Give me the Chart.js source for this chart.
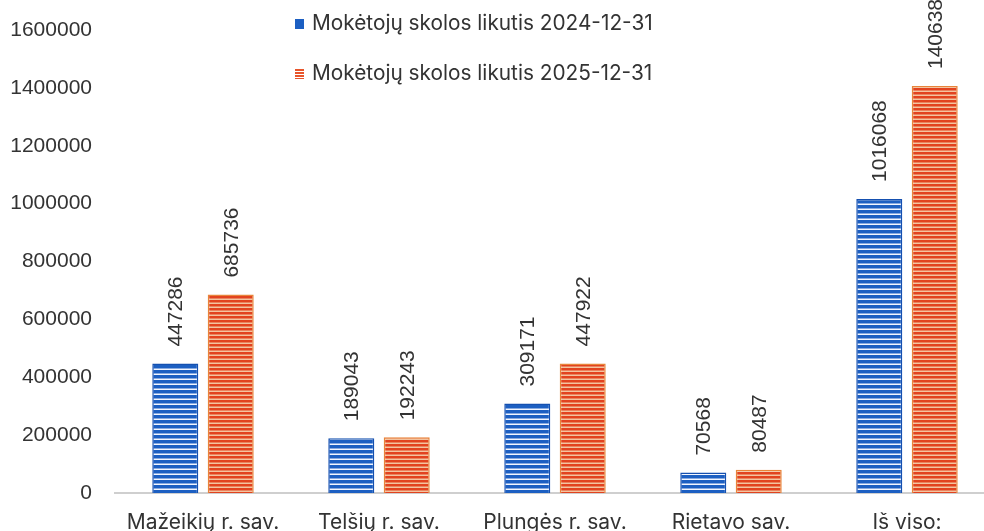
<!DOCTYPE html>
<html>
<head>
<meta charset="utf-8">
<script src="https://cdn.jsdelivr.net/npm/chart.js@4"></script>
<style>
    html, body { margin: 0; padding: 0; overflow: hidden; background: #fff; }
    #wrap { width: 995px; height: 545px; }
</style>
</head>
<body>
<div id="wrap"><canvas id="debtChart"></canvas></div>
<script>
const categories = ['Mažeikių r. sav.', 'Telšių r. sav.', 'Plungės r. sav.', 'Rietavo sav.', 'Iš viso:'];
const debt2024 = [447286, 189043, 309171, 70568, 1016068];
const debt2025 = [685736, 192243, 447922, 80487, 1406388];
const seriesLabels = ['Mokėtojų skolos likutis 2024-12-31', 'Mokėtojų skolos likutis 2025-12-31'];
const yMax = 1600000;
const yStep = 200000;

const FONT = '"Liberation Sans", Arial, sans-serif';
const LABEL_FONT = 'Inter, "Liberation Sans", sans-serif';
const TEXT = '#333333';

// horizontal stripe fill, like the scanned bars
function stripePattern(base, line, period, lineH) {
    const c = document.createElement('canvas');
    c.width = 4;
    c.height = period;
    const g = c.getContext('2d');
    g.fillStyle = base;
    g.fillRect(0, 0, 4, period);
    g.fillStyle = line;
    g.fillRect(0, period - lineH, 4, lineH);
    return g.createPattern(c, 'repeat');
}

const bluePattern = stripePattern('#1c5fc2', '#f2f6ff', 5, 1.5);
const orangePattern = stripePattern('#e2431f', '#f3c4a0', 4, 1.5);
const legendMarks = ['#1c5fc2', stripePattern('#e8552b', '#ffffff', 3, 1)];

// value labels written vertically above each bar
const barValueLabels = {
    id: 'barValueLabels',
    afterDatasetsDraw(chart) {
        const ctx = chart.ctx;
        ctx.save();
        ctx.font = '21px ' + FONT;
        ctx.fillStyle = TEXT;
        ctx.textAlign = 'left';
        ctx.textBaseline = 'middle';
        chart.data.datasets.forEach((ds, i) => {
            chart.getDatasetMeta(i).data.forEach((bar, j) => {
                ctx.save();
                ctx.translate(bar.x, bar.y - 17);
                ctx.rotate(-Math.PI / 2);
                ctx.fillText(String(ds.data[j]), 0, 1);
                ctx.restore();
            });
        });
        ctx.restore();
    }
};

// legend stacked in two rows over the plot
const stackedLegend = {
    id: 'stackedLegend',
    afterDraw(chart) {
        const ctx = chart.ctx;
        ctx.save();
        ctx.font = '20.8px ' + LABEL_FONT;
        ctx.textBaseline = 'middle';
        ctx.textAlign = 'left';
        chart.data.datasets.forEach((ds, i) => {
            const y = 24 + i * 50;
            ctx.fillStyle = legendMarks[i];
            ctx.fillRect(295, y - 5, 9, 10);
            ctx.fillStyle = TEXT;
            ctx.fillText(ds.label, 312, y);
        });
        ctx.restore();
    }
};

const ctx = document.getElementById('debtChart').getContext('2d');

new Chart(ctx, {
    type: 'bar',
    data: {
        labels: categories,
        datasets: [{
            label: seriesLabels[0],
            data: debt2024,
            backgroundColor: bluePattern,
            borderColor: '#1550b0',
            borderWidth: 1.5
        }, {
            label: seriesLabels[1],
            data: debt2025,
            backgroundColor: orangePattern,
            borderColor: '#e8843a',
            borderWidth: 1.5
        }]
    },
    options: {
        responsive: true,
        maintainAspectRatio: false,
        animation: false,
        datasets: {
            bar: {
                categoryPercentage: 0.63,
                barPercentage: 0.83
            }
        },
        layout: {
            padding: { top: 30, left: 0, right: 0, bottom: 0 }
        },
        plugins: {
            legend: { display: false },
            tooltip: { enabled: false }
        },
        scales: {
            x: {
                grid: { display: false, drawTicks: false },
                border: { display: true, color: '#cfcfcf', width: 2 },
                ticks: {
                    color: TEXT,
                    font: { family: LABEL_FONT, size: 21 },
                    padding: 17,
                    maxRotation: 0
                },
                afterFit(scale) { scale.height = 52; }
            },
            y: {
                min: 0,
                max: yMax,
                grid: { display: false, drawTicks: false },
                border: { display: false },
                ticks: {
                    stepSize: yStep,
                    color: TEXT,
                    font: { family: FONT, size: 21 },
                    padding: 23,
                    callback: (v) => String(v)
                },
                afterFit(scale) {
                    scale.width = 115;
                    // tick padding is horizontal here, don't let it push the plot down
                    scale.paddingTop = 12;
                    scale.paddingBottom = 12;
                }
            }
        }
    },
    plugins: [barValueLabels, stackedLegend]
});
</script>
</body>
</html>
